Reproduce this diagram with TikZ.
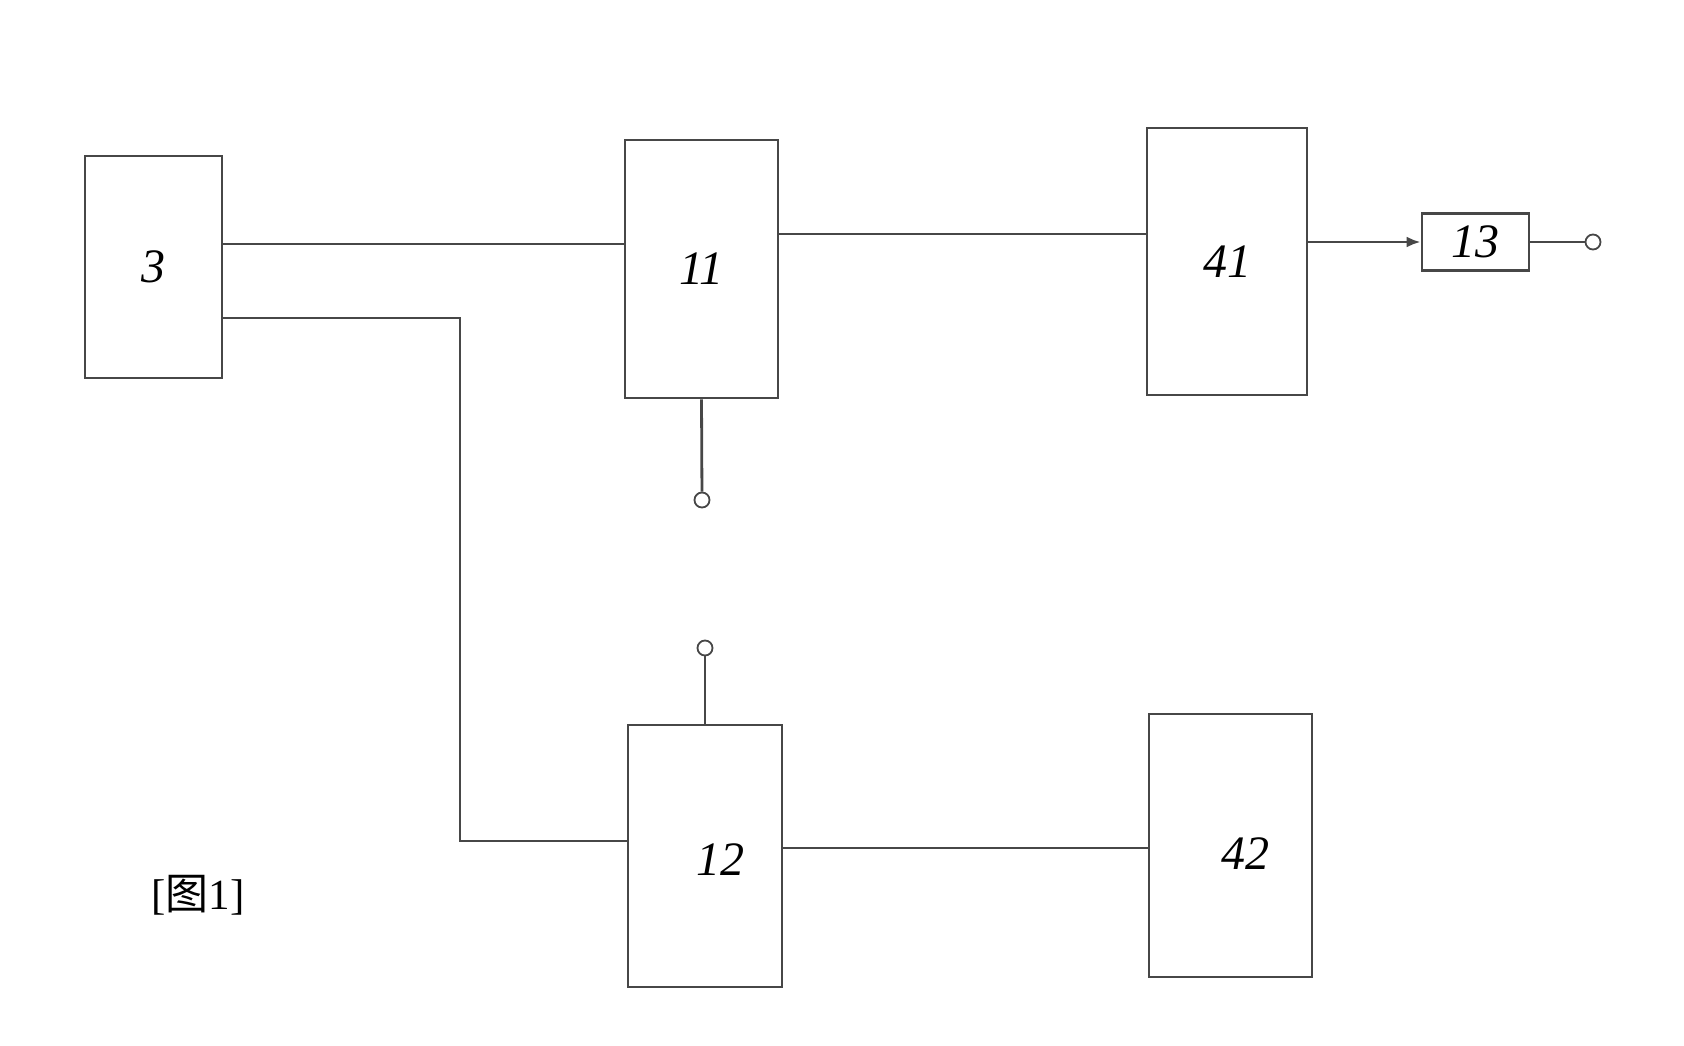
\documentclass[tikz,border=0pt]{standalone}
\usepackage{fontspec}
\setmainfont{Liberation Serif}
\newfontfamily\cjk{Noto Sans CJK SC}
\usetikzlibrary{arrows.meta}
\begin{document}
\begin{tikzpicture}[x=1pt,y=-1pt,
  wire/.style={draw=black!72, line width=2.8pt},
  blk/.style={wire, rectangle, inner sep=0pt, font=\fontsize{48}{48}\selectfont\itshape},
  term/.style={wire, circle, line width=1.8pt, minimum size=15pt, inner sep=0pt, fill=white},
  lbl/.style={font=\fontsize{43}{43}\selectfont}
]
\useasboundingbox (0,0) rectangle (1684,1046);

\node[blk, minimum width=137pt, minimum height=222pt] (b3) at (153.5,267) {3};
\node[blk, minimum width=153pt, minimum height=258pt] (b11) at (701.5,269) {11};
\node[blk, minimum width=160pt, minimum height=267pt] (b41) at (1227,261.5) {41};
\node[blk, minimum width=107pt, minimum height=57pt] (b13) at (1475.5,242) {13};
\node[blk, minimum width=154pt, minimum height=262pt, label={[xshift=15pt,yshift=-4pt,font=\fontsize{48}{48}\selectfont\itshape]center:12}] (b12) at (705,856) {};
\node[blk, minimum width=163pt, minimum height=263pt, label={[xshift=15pt,yshift=-8pt,font=\fontsize{48}{48}\selectfont\itshape]center:42}] (b42) at (1230.5,845.5) {};

\node[term] (o1) at (1593,242) {};
\node[term] (o2) at (702,500) {};
\node[term] (o3) at (705,648) {};
\coordinate (c1) at (460,841);

\node[lbl] (fig) at (198,895) {[{\cjk 图}1]};

\draw[wire] ([yshift=23pt]b3.east) -- ([yshift=23pt]b3.east -| b11.west);
\draw[wire] ([yshift=-51pt]b3.east) -| (c1) -- (c1 -| b12.west);
\draw[wire] ([yshift=35pt]b11.east) -- ([yshift=35pt]b11.east -| b41.west);
\draw[wire, -{Latex[length=14pt,width=11pt]}] (b41.east |- b13.west) -- (b13.west);
\draw[wire] (b13.east) -- (o1);
\draw[wire] (b11.south) -- (o2);
\draw[wire] (o3) -- (b12.north);
\draw[wire] ([yshift=8pt]b12.east) -- ([yshift=8pt]b12.east -| b42.west);
\end{tikzpicture}
\end{document}
